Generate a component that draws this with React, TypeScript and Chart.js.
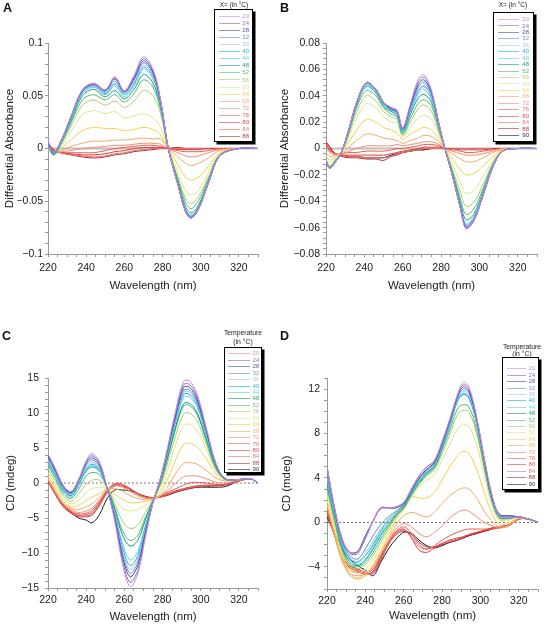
import React, { useEffect, useRef } from "react";
import { Chart, registerables } from "chart.js";

Chart.register(...registerables);

const FONT = '"Liberation Sans", Arial, Helvetica, sans-serif';

const TEMPS = [20, 24, 28, 32, 36, 40, 44, 48, 52, 56, 60, 64, 68, 72, 76, 80, 84, 88, 90];
const COLORS = ["#c58bd6", "#8a63c4", "#3d4ea3", "#5e8fd1", "#a3c2e4", "#18aee0", "#5cd1ea", "#0f9a72", "#52b76b", "#a5cf6a", "#dfe585", "#f5cf4c", "#f5a965", "#f18b74", "#ec5a4e", "#e03a3a", "#e87070", "#b52b30", "#1a1a1a"];

const X_TICKS = [220, 240, 260, 280, 300, 320];

// ---------- Panel A : differential absorbance ----------
const WL_A = [220, 223, 227, 232, 238, 244, 250, 255, 260, 265, 270, 275, 279, 283, 288, 292, 295, 299, 304, 310, 320, 330];
const A_20 = [0.006, -0.004, 0.008, 0.030, 0.056, 0.062, 0.056, 0.068, 0.055, 0.069, 0.087, 0.075, 0.046, 0.000, -0.034, -0.060, -0.066, -0.057, -0.033, -0.007, 0.000, 0.000];
const A_24 = [0.006, -0.004, 0.008, 0.030, 0.055, 0.061, 0.055, 0.067, 0.054, 0.068, 0.085, 0.074, 0.045, 0.000, -0.034, -0.059, -0.065, -0.056, -0.033, -0.007, 0.000, 0.000];
const A_28 = [0.005, -0.004, 0.008, 0.030, 0.055, 0.061, 0.055, 0.066, 0.054, 0.066, 0.083, 0.072, 0.045, 0.000, -0.034, -0.060, -0.066, -0.057, -0.033, -0.007, 0.000, 0.000];
const A_32 = [0.005, -0.004, 0.007, 0.029, 0.054, 0.060, 0.054, 0.064, 0.053, 0.065, 0.081, 0.071, 0.044, 0.000, -0.034, -0.059, -0.065, -0.056, -0.033, -0.007, 0.000, 0.000];
const A_36 = [0.005, -0.004, 0.007, 0.029, 0.053, 0.059, 0.053, 0.062, 0.052, 0.063, 0.079, 0.069, 0.043, 0.000, -0.033, -0.059, -0.065, -0.056, -0.032, -0.007, 0.000, 0.000];
const A_40 = [0.004, -0.005, 0.007, 0.028, 0.053, 0.059, 0.052, 0.061, 0.051, 0.061, 0.077, 0.068, 0.042, 0.000, -0.033, -0.058, -0.064, -0.055, -0.032, -0.007, 0.000, 0.000];
const A_44 = [0.004, -0.005, 0.006, 0.027, 0.052, 0.058, 0.051, 0.059, 0.049, 0.059, 0.075, 0.066, 0.041, 0.000, -0.033, -0.058, -0.063, -0.055, -0.032, -0.007, 0.000, 0.000];
const A_48 = [0.003, -0.006, 0.006, 0.026, 0.050, 0.056, 0.049, 0.055, 0.047, 0.056, 0.070, 0.062, 0.039, 0.000, -0.031, -0.055, -0.061, -0.053, -0.031, -0.007, 0.000, 0.000];
const A_52 = [0.003, -0.006, 0.005, 0.024, 0.046, 0.051, 0.046, 0.051, 0.044, 0.052, 0.065, 0.058, 0.037, 0.000, -0.029, -0.051, -0.057, -0.049, -0.029, -0.006, 0.000, 0.000];
const A_56 = [0.002, -0.006, 0.004, 0.021, 0.041, 0.046, 0.041, 0.045, 0.039, 0.045, 0.055, 0.050, 0.033, 0.000, -0.027, -0.047, -0.052, -0.045, -0.027, -0.006, 0.000, 0.000];
const A_60 = [0.002, -0.005, 0.002, 0.016, 0.032, 0.036, 0.033, 0.035, 0.029, 0.031, 0.033, 0.029, 0.020, 0.000, -0.022, -0.040, -0.044, -0.039, -0.023, -0.005, 0.000, 0.000];
const A_64 = [0.002, -0.005, 0.000, 0.008, 0.017, 0.020, 0.019, 0.019, 0.017, 0.018, 0.020, 0.018, 0.013, 0.000, -0.015, -0.027, -0.030, -0.027, -0.017, -0.004, 0.000, 0.000];
const A_68 = [0.002, -0.004, -0.002, 0.002, 0.005, 0.007, 0.007, 0.008, 0.008, 0.009, 0.010, 0.009, 0.009, 0.000, -0.008, -0.014, -0.016, -0.014, -0.009, -0.002, 0.000, 0.000];
const A_72 = [0.003, -0.004, -0.003, -0.002, 0.000, 0.001, 0.002, 0.003, 0.003, 0.004, 0.005, 0.005, 0.004, 0.000, -0.004, -0.007, -0.008, -0.007, -0.004, -0.001, 0.000, 0.000];
const A_76 = [0.004, -0.003, -0.004, -0.004, -0.004, -0.004, -0.002, 0.000, 0.001, 0.002, 0.003, 0.003, 0.002, 0.000, -0.002, -0.003, -0.003, -0.003, -0.002, 0.000, 0.000, 0.000];
const A_80 = [0.004, -0.002, -0.004, -0.005, -0.006, -0.006, -0.005, -0.003, -0.002, 0.000, 0.001, 0.001, 0.001, 0.000, -0.001, -0.001, -0.001, -0.001, 0.000, 0.000, 0.000, 0.000];
const A_84 = [0.005, -0.002, -0.004, -0.006, -0.007, -0.008, -0.007, -0.005, -0.004, -0.002, -0.001, 0.000, 0.000, 0.000, 0.000, 0.000, 0.000, 0.000, 0.000, 0.000, 0.000, 0.000];
const A_88 = [0.006, -0.001, -0.004, -0.006, -0.008, -0.009, -0.008, -0.006, -0.005, -0.003, -0.002, -0.001, 0.000, 0.000, 0.001, 0.000, 0.000, 0.000, 0.000, 0.000, 0.000, 0.000];
const TEMPS_A = [20, 24, 28, 32, 36, 40, 44, 48, 52, 56, 60, 64, 68, 72, 76, 80, 84, 88];
const SERIES_A = [A_20, A_24, A_28, A_32, A_36, A_40, A_44, A_48, A_52, A_56, A_60, A_64, A_68, A_72, A_76, A_80, A_84, A_88];

// ---------- Panel B : differential absorbance ----------
const WL_B = [220, 222, 225, 228, 232, 236, 241, 246, 250, 254, 257, 260, 264, 268, 271, 275, 279, 282, 286, 290, 293, 297, 302, 307, 312, 320, 330];
const B_20 = [-0.008, -0.015, -0.010, -0.003, 0.015, 0.035, 0.050, 0.045, 0.035, 0.031, 0.029, 0.016, 0.034, 0.052, 0.056, 0.044, 0.018, 0.000, -0.021, -0.045, -0.061, -0.055, -0.035, -0.014, -0.002, 0.000, 0.000];
const B_24 = [-0.009, -0.015, -0.010, -0.003, 0.015, 0.035, 0.050, 0.045, 0.035, 0.031, 0.029, 0.015, 0.033, 0.050, 0.054, 0.043, 0.018, 0.000, -0.021, -0.045, -0.060, -0.055, -0.035, -0.014, -0.002, 0.000, 0.000];
const B_28 = [-0.009, -0.015, -0.010, -0.003, 0.015, 0.035, 0.050, 0.045, 0.035, 0.030, 0.028, 0.015, 0.032, 0.048, 0.052, 0.042, 0.018, 0.000, -0.021, -0.045, -0.060, -0.055, -0.035, -0.014, -0.002, 0.000, 0.000];
const B_32 = [-0.010, -0.015, -0.010, -0.003, 0.015, 0.035, 0.049, 0.044, 0.034, 0.030, 0.028, 0.014, 0.031, 0.046, 0.050, 0.041, 0.017, 0.000, -0.021, -0.044, -0.059, -0.054, -0.035, -0.014, -0.002, 0.000, 0.000];
const B_36 = [-0.010, -0.015, -0.010, -0.003, 0.015, 0.034, 0.049, 0.044, 0.034, 0.030, 0.027, 0.014, 0.030, 0.044, 0.048, 0.040, 0.017, 0.000, -0.021, -0.044, -0.058, -0.054, -0.034, -0.014, -0.002, 0.000, 0.000];
const B_40 = [-0.010, -0.015, -0.010, -0.003, 0.014, 0.034, 0.049, 0.044, 0.034, 0.029, 0.027, 0.013, 0.029, 0.043, 0.047, 0.039, 0.017, 0.000, -0.020, -0.043, -0.058, -0.053, -0.034, -0.014, -0.002, 0.000, 0.000];
const B_44 = [-0.011, -0.015, -0.010, -0.003, 0.014, 0.034, 0.048, 0.043, 0.033, 0.029, 0.026, 0.012, 0.028, 0.041, 0.045, 0.037, 0.016, 0.000, -0.020, -0.043, -0.057, -0.052, -0.033, -0.013, -0.002, 0.000, 0.000];
const B_48 = [-0.011, -0.015, -0.010, -0.003, 0.014, 0.033, 0.047, 0.042, 0.032, 0.028, 0.025, 0.012, 0.026, 0.038, 0.041, 0.035, 0.015, 0.000, -0.019, -0.041, -0.054, -0.050, -0.032, -0.013, -0.002, 0.000, 0.000];
const B_52 = [-0.010, -0.014, -0.009, -0.003, 0.013, 0.031, 0.044, 0.040, 0.031, 0.026, 0.024, 0.011, 0.023, 0.034, 0.037, 0.032, 0.014, 0.000, -0.018, -0.038, -0.050, -0.046, -0.030, -0.012, -0.002, 0.000, 0.000];
const B_56 = [-0.009, -0.013, -0.008, -0.003, 0.011, 0.028, 0.040, 0.036, 0.028, 0.024, 0.022, 0.010, 0.020, 0.030, 0.033, 0.028, 0.012, 0.000, -0.016, -0.033, -0.044, -0.041, -0.027, -0.011, -0.002, 0.000, 0.000];
const B_60 = [-0.008, -0.011, -0.007, -0.003, 0.009, 0.023, 0.034, 0.031, 0.024, 0.020, 0.019, 0.009, 0.016, 0.023, 0.025, 0.022, 0.010, 0.000, -0.012, -0.026, -0.034, -0.032, -0.021, -0.009, -0.001, 0.000, 0.000];
const B_64 = [-0.006, -0.009, -0.006, -0.003, 0.005, 0.014, 0.022, 0.020, 0.016, 0.014, 0.012, 0.007, 0.011, 0.014, 0.016, 0.014, 0.007, 0.000, -0.008, -0.016, -0.020, -0.019, -0.013, -0.006, -0.001, 0.000, 0.000];
const B_68 = [-0.003, -0.006, -0.005, -0.004, 0.001, 0.006, 0.011, 0.010, 0.008, 0.007, 0.006, 0.004, 0.006, 0.008, 0.010, 0.009, 0.005, 0.000, -0.004, -0.008, -0.010, -0.010, -0.007, -0.003, -0.001, 0.000, 0.000];
const B_72 = [0.000, -0.003, -0.005, -0.004, -0.002, 0.000, 0.002, 0.002, 0.002, 0.002, 0.003, 0.002, 0.003, 0.004, 0.005, 0.005, 0.003, 0.000, -0.002, -0.004, -0.005, -0.005, -0.004, -0.002, 0.000, 0.000, 0.000];
const B_76 = [0.002, -0.002, -0.004, -0.004, -0.003, -0.003, -0.002, -0.002, -0.002, -0.001, 0.000, 0.000, 0.001, 0.002, 0.003, 0.003, 0.002, 0.000, -0.001, -0.002, -0.003, -0.003, -0.002, -0.001, 0.000, 0.000, 0.000];
const B_80 = [0.003, -0.001, -0.004, -0.005, -0.005, -0.005, -0.005, -0.005, -0.005, -0.004, -0.003, -0.002, -0.001, 0.000, 0.001, 0.001, 0.001, 0.000, 0.000, -0.001, -0.001, -0.001, -0.001, 0.000, 0.000, 0.000, 0.000];
const B_84 = [0.004, 0.000, -0.004, -0.005, -0.006, -0.006, -0.007, -0.007, -0.007, -0.006, -0.004, -0.003, -0.002, -0.001, 0.000, 0.000, 0.000, 0.000, 0.000, 0.000, 0.000, 0.000, 0.000, 0.000, 0.000, 0.000, 0.000];
const B_88 = [0.005, 0.001, -0.004, -0.006, -0.007, -0.007, -0.008, -0.008, -0.009, -0.006, -0.005, -0.003, -0.002, -0.001, -0.001, 0.000, 0.000, 0.000, 0.000, 0.000, 0.000, 0.000, 0.000, 0.000, 0.000, 0.000, 0.000];
const B_90 = [0.005, 0.001, -0.004, -0.005, -0.006, -0.006, -0.007, -0.007, -0.007, -0.005, -0.004, -0.003, -0.002, -0.001, -0.001, 0.000, 0.000, 0.000, 0.000, 0.000, 0.000, 0.000, 0.000, 0.000, 0.000, 0.000, 0.000];
const TEMPS_B = [20, 24, 28, 32, 36, 40, 44, 48, 52, 56, 60, 64, 68, 72, 76, 80, 84, 88, 90];
const SERIES_B = [B_20, B_24, B_28, B_32, B_36, B_40, B_44, B_48, B_52, B_56, B_60, B_64, B_68, B_72, B_76, B_80, B_84, B_88, B_90];

// ---------- Panel C : CD (mdeg) ----------
const WL_C = [220, 224, 228, 232, 236, 240, 243, 247, 251, 255, 259, 263, 267, 271, 275, 279, 283, 287, 291, 294, 298, 303, 308, 313, 320, 326, 330];
const C_20 = [4.2, 2.0, -0.3, -1.2, 0.5, 3.2, 4.2, 3.0, -0.8, -5.5, -11.5, -14.8, -13.0, -7.8, -2.8, 0.8, 5.5, 10.5, 14.5, 14.6, 12.8, 7.8, 2.8, 0.6, 0.5, 0.6, 0.0];
const C_24 = [4.0, 1.9, -0.4, -1.3, 0.4, 3.0, 3.9, 2.8, -0.8, -5.3, -11.1, -14.2, -12.5, -7.5, -2.8, 0.7, 5.3, 10.2, 14.0, 14.1, 12.4, 7.6, 2.7, 0.6, 0.5, 0.6, 0.0];
const C_28 = [3.8, 1.7, -0.5, -1.4, 0.3, 2.8, 3.6, 2.6, -0.8, -5.0, -10.5, -13.4, -11.8, -7.1, -2.8, 0.7, 5.1, 9.8, 13.6, 13.7, 12.0, 7.4, 2.6, 0.6, 0.5, 0.6, 0.0];
const C_32 = [3.5, 1.5, -0.7, -1.5, 0.2, 2.6, 3.3, 2.4, -0.8, -4.8, -10.1, -12.9, -11.4, -6.9, -2.7, 0.6, 5.0, 9.6, 13.2, 13.3, 11.7, 7.2, 2.5, 0.6, 0.5, 0.6, 0.0];
const C_36 = [3.2, 1.3, -0.8, -1.6, 0.0, 2.3, 3.0, 2.2, -0.8, -4.6, -9.7, -12.4, -10.9, -6.6, -2.7, 0.6, 4.9, 9.4, 12.9, 13.0, 11.5, 7.1, 2.5, 0.6, 0.5, 0.6, 0.0];
const C_40 = [3.0, 1.1, -1.0, -1.8, -0.2, 2.0, 2.7, 2.0, -0.8, -4.4, -9.2, -11.8, -10.4, -6.3, -2.6, 0.5, 4.7, 9.1, 12.6, 12.7, 11.2, 6.9, 2.4, 0.5, 0.5, 0.6, 0.0];
const C_44 = [2.8, 0.9, -1.2, -2.0, -0.4, 1.8, 2.5, 1.8, -0.8, -4.2, -8.6, -11.0, -9.8, -6.0, -2.6, 0.4, 4.5, 8.8, 12.2, 12.3, 10.9, 6.7, 2.3, 0.5, 0.5, 0.6, 0.0];
const C_48 = [3.0, 1.0, -1.0, -1.8, -0.3, 1.7, 2.3, 1.7, -0.7, -3.8, -7.4, -9.0, -8.2, -5.3, -2.5, 0.2, 4.1, 8.2, 11.3, 11.4, 10.1, 6.2, 2.2, 0.5, 0.5, 0.6, 0.0];
const C_52 = [2.5, 0.6, -1.5, -2.2, -0.9, 1.0, 1.5, 1.2, -0.7, -3.5, -6.8, -8.2, -7.5, -4.9, -2.5, 0.0, 3.8, 7.9, 11.0, 11.1, 9.8, 6.0, 2.1, 0.5, 0.5, 0.6, 0.0];
const C_56 = [2.0, 0.2, -1.8, -2.6, -1.6, -0.2, 0.4, 0.4, -0.6, -3.0, -5.4, -6.5, -6.0, -4.2, -2.4, -0.3, 3.2, 6.9, 9.8, 10.0, 8.9, 5.5, 1.9, 0.5, 0.5, 0.6, 0.0];
const C_60 = [1.5, -0.3, -2.2, -3.0, -2.5, -1.3, -0.8, -0.6, -0.8, -2.3, -3.6, -4.0, -3.8, -3.2, -2.4, -0.9, 2.1, 5.6, 8.2, 8.4, 7.5, 4.8, 1.7, 0.5, 0.5, 0.6, 0.0];
const C_64 = [1.0, -0.8, -2.6, -3.4, -3.2, -2.5, -2.0, -1.5, -0.8, -1.6, -2.3, -2.8, -2.8, -2.6, -2.4, -1.4, 0.8, 3.4, 5.5, 5.7, 5.2, 3.4, 1.3, 0.4, 0.5, 0.6, 0.0];
const C_68 = [0.6, -1.2, -2.9, -3.6, -3.8, -3.4, -3.0, -2.0, -0.9, -0.8, -1.2, -1.8, -2.2, -2.4, -2.3, -1.8, -0.4, 1.4, 2.8, 2.9, 2.7, 1.8, 0.7, 0.3, 0.5, 0.6, 0.0];
const C_72 = [0.5, -1.4, -3.0, -3.8, -4.2, -4.0, -3.6, -2.4, -1.0, -0.4, -0.6, -1.2, -1.8, -2.2, -2.2, -1.8, -1.0, 0.0, 0.9, 1.0, 1.0, 0.6, 0.1, 0.0, 0.4, 0.6, 0.0];
const C_76 = [0.4, -1.5, -3.1, -4.0, -4.4, -4.3, -3.9, -2.6, -1.0, -0.2, -0.3, -0.9, -1.6, -2.0, -2.1, -1.8, -1.3, -0.8, -0.3, 0.0, 0.1, 0.0, -0.2, -0.2, 0.3, 0.6, 0.0];
const C_80 = [0.3, -1.6, -3.2, -4.1, -4.6, -4.5, -4.2, -2.8, -1.1, -0.1, -0.2, -0.8, -1.5, -2.0, -2.1, -1.9, -1.5, -1.1, -0.8, -0.6, -0.4, -0.3, -0.3, -0.2, 0.3, 0.6, 0.0];
const C_84 = [0.3, -1.7, -3.3, -4.2, -4.7, -4.7, -4.4, -3.0, -1.2, -0.2, -0.3, -0.8, -1.5, -2.0, -2.1, -2.0, -1.6, -1.2, -0.9, -0.7, -0.5, -0.4, -0.3, -0.2, 0.3, 0.6, 0.0];
const C_88 = [0.2, -1.7, -3.4, -4.3, -4.8, -4.8, -4.6, -3.2, -1.4, -0.4, -0.5, -0.9, -1.6, -2.0, -2.2, -2.0, -1.7, -1.3, -1.0, -0.8, -0.6, -0.5, -0.4, -0.3, 0.3, 0.6, 0.0];
const C_90 = [0.4, -1.5, -3.2, -4.2, -5.0, -5.3, -5.7, -4.5, -2.2, -1.0, -1.0, -1.1, -1.5, -1.9, -2.1, -2.0, -1.7, -1.3, -1.0, -0.8, -0.6, -0.6, -0.6, -0.5, 0.3, 0.6, 0.0];
const TEMPS_C = [20, 24, 28, 32, 36, 40, 44, 48, 52, 56, 60, 64, 68, 72, 76, 80, 84, 88, 90];
const SERIES_C = [C_20, C_24, C_28, C_32, C_36, C_40, C_44, C_48, C_52, C_56, C_60, C_64, C_68, C_72, C_76, C_80, C_84, C_88, C_90];

// ---------- Panel D : CD (mdeg) ----------
const WL_D = [220, 224, 228, 232, 236, 240, 244, 248, 252, 256, 260, 264, 268, 272, 276, 280, 284, 288, 291, 294, 298, 302, 306, 310, 315, 320, 325, 330];
const D_20 = [5.0, 1.3, -1.5, -2.7, -2.7, -1.5, 0.1, 1.2, 1.3, 1.4, 1.8, 3.0, 4.2, 5.0, 5.6, 7.3, 9.3, 11.5, 12.6, 12.2, 9.5, 5.8, 2.5, 0.6, 0.4, 0.5, 0.3, 0.0];
const D_24 = [5.0, 1.2, -1.6, -2.8, -2.8, -1.4, 0.1, 1.3, 1.3, 1.4, 1.8, 3.0, 4.2, 5.0, 5.5, 7.2, 9.2, 11.4, 12.4, 12.0, 9.4, 5.7, 2.4, 0.6, 0.4, 0.5, 0.3, 0.0];
const D_28 = [5.0, 1.2, -1.6, -2.7, -2.6, -1.2, 0.1, 1.3, 1.3, 1.3, 1.7, 2.9, 4.0, 4.8, 5.4, 7.1, 9.1, 11.3, 12.2, 11.8, 9.3, 5.6, 2.3, 0.7, 0.6, 0.5, 0.3, 0.0];
const D_32 = [4.3, 0.9, -1.8, -3.0, -3.3, -2.4, -1.2, -0.2, 0.5, 1.0, 1.6, 2.8, 3.9, 4.7, 5.3, 7.0, 9.0, 11.2, 12.0, 11.7, 9.2, 5.6, 2.3, 0.7, 0.6, 0.5, 0.3, 0.0];
const D_36 = [4.2, 0.8, -1.9, -3.2, -3.5, -2.8, -1.7, -0.6, 0.3, 0.9, 1.6, 2.8, 3.8, 4.6, 5.2, 6.9, 8.9, 11.1, 11.8, 11.5, 9.1, 5.5, 2.2, 0.6, 0.5, 0.5, 0.3, 0.0];
const D_40 = [4.0, 0.7, -2.0, -3.3, -3.6, -3.0, -2.0, -0.8, 0.2, 0.9, 1.5, 2.7, 3.8, 4.5, 5.1, 6.8, 8.8, 11.0, 11.6, 11.3, 9.0, 5.5, 2.2, 0.6, 0.5, 0.5, 0.3, 0.0];
const D_44 = [3.8, 0.6, -2.1, -3.4, -3.8, -3.3, -2.2, -1.0, 0.0, 0.8, 1.5, 2.7, 3.7, 4.5, 5.1, 6.8, 8.7, 10.9, 11.5, 11.2, 8.9, 5.4, 2.1, 0.6, 0.5, 0.5, 0.3, 0.0];
const D_48 = [3.5, 0.4, -2.3, -3.6, -3.9, -3.4, -2.4, -1.2, -0.2, 0.7, 1.4, 2.6, 3.6, 4.4, 5.0, 6.7, 8.7, 10.9, 11.5, 11.2, 8.9, 5.4, 2.1, 0.5, 0.4, 0.5, 0.3, 0.0];
const D_52 = [3.2, 0.2, -2.5, -3.8, -4.0, -3.6, -2.7, -1.5, -0.4, 0.6, 1.3, 2.5, 3.5, 4.3, 4.9, 6.5, 8.3, 10.2, 10.6, 10.4, 8.3, 5.0, 1.9, 0.4, 0.4, 0.5, 0.3, 0.0];
const D_56 = [3.0, 0.0, -2.7, -4.0, -4.2, -3.8, -3.0, -1.8, -0.6, 0.5, 1.2, 2.4, 3.4, 4.2, 4.7, 6.2, 7.9, 9.7, 10.1, 9.9, 8.0, 4.8, 1.8, 0.3, 0.3, 0.5, 0.3, 0.0];
const D_60 = [2.5, -0.4, -3.0, -4.3, -4.6, -4.2, -3.4, -2.2, -0.9, 0.3, 1.1, 2.3, 3.2, 3.8, 4.3, 5.6, 7.0, 8.4, 8.8, 8.6, 7.0, 4.2, 1.5, 0.2, 0.2, 0.5, 0.3, 0.0];
const D_64 = [2.0, -0.8, -3.3, -4.6, -5.0, -4.6, -3.8, -2.6, -1.2, 0.3, 1.5, 2.3, 2.2, 2.2, 2.7, 3.8, 5.0, 6.0, 6.4, 6.2, 4.8, 2.7, 0.8, -0.2, 0.0, 0.4, 0.3, 0.0];
const D_68 = [1.6, -1.1, -3.5, -4.8, -5.1, -4.8, -4.0, -2.8, -1.5, -0.2, 0.6, 0.9, 0.7, 0.5, 0.9, 1.7, 2.4, 2.9, 3.1, 3.0, 2.2, 1.0, 0.1, -0.4, -0.2, 0.4, 0.3, 0.0];
const D_72 = [1.4, -1.2, -3.5, -4.6, -4.8, -4.7, -4.0, -2.9, -1.7, -0.6, -0.1, -0.4, -1.0, -1.3, -0.9, -0.3, 0.4, 0.9, 1.1, 1.0, 0.5, 0.0, -0.3, -0.5, -0.3, 0.3, 0.3, 0.0];
const D_76 = [1.2, -1.2, -3.4, -4.3, -4.5, -4.6, -4.2, -3.0, -1.8, -0.8, -0.4, -1.0, -2.0, -2.4, -2.1, -1.6, -1.2, -0.9, -0.7, -0.6, -0.6, -0.6, -0.6, -0.5, -0.3, 0.3, 0.3, 0.0];
const D_80 = [1.0, -1.2, -3.3, -4.1, -4.4, -4.7, -4.4, -3.1, -1.8, -0.9, -0.6, -1.4, -2.5, -2.7, -2.3, -1.9, -1.6, -1.4, -1.3, -1.1, -0.9, -0.7, -0.5, -0.4, -0.2, 0.3, 0.3, 0.0];
const D_84 = [0.9, -1.2, -3.2, -4.0, -4.3, -4.6, -4.5, -3.2, -1.9, -1.0, -0.7, -1.3, -2.2, -2.4, -2.2, -1.9, -1.7, -1.5, -1.3, -1.1, -0.9, -0.7, -0.5, -0.4, -0.2, 0.3, 0.3, 0.0];
const D_88 = [0.8, -1.2, -3.1, -3.9, -4.2, -4.5, -4.6, -3.4, -2.0, -1.1, -0.8, -1.1, -1.8, -2.2, -2.2, -2.0, -1.8, -1.6, -1.4, -1.2, -1.0, -0.8, -0.6, -0.4, -0.2, 0.3, 0.3, 0.0];
const D_90 = [0.5, -1.0, -2.4, -3.3, -3.9, -4.3, -4.8, -3.6, -2.4, -1.5, -0.9, -1.0, -1.6, -2.1, -2.3, -2.1, -1.8, -1.6, -1.4, -1.2, -1.0, -0.8, -0.6, -0.4, -0.2, 0.3, 0.3, 0.0];
const TEMPS_D = [20, 24, 28, 32, 36, 40, 44, 48, 52, 56, 60, 64, 68, 72, 76, 80, 84, 88, 90];
const SERIES_D = [D_20, D_24, D_28, D_32, D_36, D_40, D_44, D_48, D_52, D_56, D_60, D_64, D_68, D_72, D_76, D_80, D_84, D_88, D_90];

const colorOf = (t: number) => COLORS[TEMPS.indexOf(t)];
const MINUS = "\u2212";

const boxLegendPlugin = {
  id: "boxLegend",
  afterDraw(chart: any, _args: any, o: any) {
    const ctx = chart.ctx as CanvasRenderingContext2D;
    ctx.save();
    ctx.fillStyle = "#111";
    ctx.font = `bold 12.5px ${FONT}`;
    ctx.textAlign = "left";
    ctx.textBaseline = "alphabetic";
    ctx.fillText(o.letter, o.letterX, o.letterY);

    ctx.font = `${o.titleSize}px ${FONT}`;
    ctx.textAlign = "center";
    ctx.textBaseline = "middle";
    ctx.fillStyle = "#222";
    o.titles.forEach((t: string, i: number) => ctx.fillText(t, o.titleX, o.titleY[i]));

    const [bx, by, bw, bh] = o.box;
    ctx.fillStyle = "#000";
    ctx.fillRect(bx + 2.5, by + 2.5, bw, bh);
    ctx.fillStyle = "#fff";
    ctx.fillRect(bx, by, bw, bh);
    ctx.strokeStyle = "#000";
    ctx.lineWidth = 1;
    ctx.strokeRect(bx + 0.5, by + 0.5, bw - 1, bh - 1);

    ctx.font = `${o.size}px ${FONT}`;
    ctx.textAlign = "right";
    ctx.textBaseline = "middle";
    o.temps.forEach((t: number, i: number) => {
      const y = o.y0 + i * o.dy;
      const c = colorOf(t);
      ctx.globalAlpha = 0.6;
      ctx.strokeStyle = c;
      ctx.beginPath();
      ctx.moveTo(o.lx0, Math.round(y) + 0.5);
      ctx.lineTo(o.lx1, Math.round(y) + 0.5);
      ctx.stroke();
      ctx.globalAlpha = 0.95;
      ctx.fillStyle = c;
      ctx.fillText(String(t), o.tx, y + 0.5);
    });
    ctx.restore();
  },
};

type Spec = {
  left: number; top: number; w: number; h: number;
  wl: number[]; temps: number[]; series: number[][];
  pad: { left: number; right: number; top: number; bottom: number };
  yW: number; xH: number; xTickPad: number; yTickPad: number;
  yMin: number; yMax: number; yStep: number; yLabel: (v: number) => string;
  yTitle: string; zero: "grey" | "dash"; legend: any;
};

function buildConfig(s: Spec): any {
  const datasets: any[] = s.series.map((vals, i) => ({
    label: String(s.temps[i]),
    data: s.wl.map((x, j) => ({ x, y: vals[j] })),
    borderColor: colorOf(s.temps[i]),
    borderWidth: 1,
    pointRadius: 0,
    tension: 0.35,
    fill: false,
  }));
  datasets.push(
    s.zero === "grey"
      ? { label: "zero", data: [{ x: 220, y: 0 }, { x: 330, y: 0 }], borderColor: "#bdbdbd", borderWidth: 2, pointRadius: 0, order: 100 }
      : { label: "zero", data: [{ x: 220, y: 0 }, { x: 330, y: 0 }], borderColor: "#555", borderWidth: 0.8, borderDash: [2, 2], pointRadius: 0, order: 100 }
  );
  const tickFont = { family: FONT, size: 10.5 };
  const titleFont = { family: FONT, size: 11.5 };
  return {
    type: "line",
    data: { datasets },
    options: {
      animation: false,
      responsive: false,
      devicePixelRatio: 1,
      events: [],
      layout: { padding: s.pad },
      plugins: { legend: { display: false }, tooltip: { enabled: false }, boxLegend: { ...s.legend, temps: s.temps } },
      scales: {
        x: {
          type: "linear",
          min: 220,
          max: 330,
          ticks: {
            stepSize: 5, autoSkip: false, maxRotation: 0, minRotation: 0, maxTicksLimit: 100,
            padding: s.xTickPad, color: "#222", font: tickFont,
            callback: (v: number) => (X_TICKS.includes(Math.round(v)) ? String(Math.round(v)) : ""),
          },
          grid: { drawOnChartArea: false, drawTicks: true, tickLength: 3, color: "#9a9a9a" },
          border: { color: "#9a9a9a" },
          title: { display: true, text: "Wavelength (nm)", color: "#222", font: titleFont, padding: 0 },
          afterFit: (sc: any) => { sc.height = s.xH; },
        },
        y: {
          type: "linear",
          min: s.yMin,
          max: s.yMax,
          ticks: {
            stepSize: s.yStep, autoSkip: false, maxTicksLimit: 200,
            padding: s.yTickPad, color: "#222", font: tickFont,
            callback: (v: number) => s.yLabel(v),
          },
          grid: { drawOnChartArea: false, drawTicks: true, tickLength: 3, color: "#9a9a9a" },
          border: { color: "#9a9a9a" },
          title: { display: true, text: s.yTitle, color: "#222", font: titleFont, padding: 0 },
          afterFit: (sc: any) => { sc.width = s.yW; },
        },
      },
    },
    plugins: [boxLegendPlugin],
  };
}

const signed = (n: number, str: string) => (n < 0 ? MINUS + str : str);

const SPECS: Spec[] = [
  {
    left: 0, top: 0, w: 272, h: 310, wl: WL_A, temps: TEMPS_A, series: SERIES_A,
    pad: { left: 3, right: 14, top: 43, bottom: 17 }, yW: 45, xH: 39, xTickPad: 4.4, yTickPad: 2,
    yMin: -0.1, yMax: 0.1, yStep: 0.01,
    yLabel: (v) => { const k = Math.round(v * 100); if (k % 5 !== 0) return ""; if (k === 0) return "0"; return signed(k, String(Math.abs(k) / 100)); },
    yTitle: "Differential Absorbance", zero: "grey",
    legend: { letter: "A", letterX: 3, letterY: 12, titles: ["X= (in \u00B0C)"], titleX: 234, titleY: [5], titleSize: 6.5, box: [214, 9, 39, 133], y0: 15.7, dy: 7.08, lx0: 219, lx1: 240, tx: 249, size: 6 },
  },
  {
    left: 272, top: 0, w: 272, h: 310, wl: WL_B, temps: TEMPS_B, series: SERIES_B,
    pad: { left: 6, right: 7, top: 43, bottom: 17 }, yW: 48, xH: 39, xTickPad: 4.4, yTickPad: 3,
    yMin: -0.08, yMax: 0.08, yStep: 0.004,
    yLabel: (v) => { const k = Math.round(v * 1000); if (k % 20 !== 0) return ""; if (k === 0) return "0"; return signed(k, (Math.abs(k) / 1000).toFixed(2)); },
    yTitle: "Differential Absorbance", zero: "grey",
    legend: { letter: "B", letterX: 8, letterY: 12, titles: ["X= (in \u00B0C)"], titleX: 241, titleY: [5], titleSize: 6.5, box: [221, 12, 41, 130], y0: 19, dy: 6.44, lx0: 226, lx1: 247, tx: 257, size: 6 },
  },
  {
    left: 0, top: 310, w: 272, h: 315, wl: WL_C, temps: TEMPS_C, series: SERIES_C,
    pad: { left: 4, right: 14, top: 68, bottom: 1 }, yW: 44, xH: 36, xTickPad: 2.7, yTickPad: 6,
    yMin: -15, yMax: 15, yStep: 1,
    yLabel: (v) => { const k = Math.round(v); if (k % 5 !== 0) return ""; if (k === 0) return "0"; return signed(k, String(Math.abs(k))); },
    yTitle: "CD (mdeg)", zero: "dash",
    legend: { letter: "C", letterX: 2, letterY: 30, titles: ["Temperature", "(in \u00B0C)"], titleX: 243, titleY: [22.7, 31.7], titleSize: 6.8, box: [224, 37, 38, 126], y0: 43.3, dy: 6.44, lx0: 228, lx1: 250, tx: 259, size: 5.6 },
  },
  {
    left: 272, top: 310, w: 272, h: 315, wl: WL_D, temps: TEMPS_D, series: SERIES_D,
    pad: { left: 8, right: 6, top: 68, bottom: 2 }, yW: 47, xH: 34, xTickPad: 2.7, yTickPad: 4,
    yMin: -6, yMax: 13, yStep: 1,
    yLabel: (v) => { const k = Math.round(v); if (k % 4 !== 0) return ""; if (k === 0) return "0"; return signed(k, String(Math.abs(k))); },
    yTitle: "CD (mdeg)", zero: "dash",
    legend: { letter: "D", letterX: 8, letterY: 30, titles: ["Temperature", "(in \u00B0C)"], titleX: 250, titleY: [37.3, 44], titleSize: 6.8, box: [230, 47, 37, 133], y0: 58.3, dy: 6.4, lx0: 235, lx1: 254, tx: 263, size: 5.6 },
  },
];

function ChartPanel({ spec }: { spec: Spec }) {
  const ref = useRef<HTMLCanvasElement>(null);
  useEffect(() => {
    if (!ref.current) return;
    const chart = new Chart(ref.current, buildConfig(spec));
    return () => chart.destroy();
  }, [spec]);
  return (
    <canvas
      ref={ref}
      width={spec.w}
      height={spec.h}
      style={{ position: "absolute", left: spec.left, top: spec.top, width: spec.w, height: spec.h }}
    />
  );
}

export default function App() {
  return (
    <div style={{ position: "absolute", left: 0, top: 0, width: 544, height: 625, background: "#fff", overflow: "hidden" }}>
      {SPECS.map((s, i) => (
        <ChartPanel key={i} spec={s} />
      ))}
    </div>
  );
}
